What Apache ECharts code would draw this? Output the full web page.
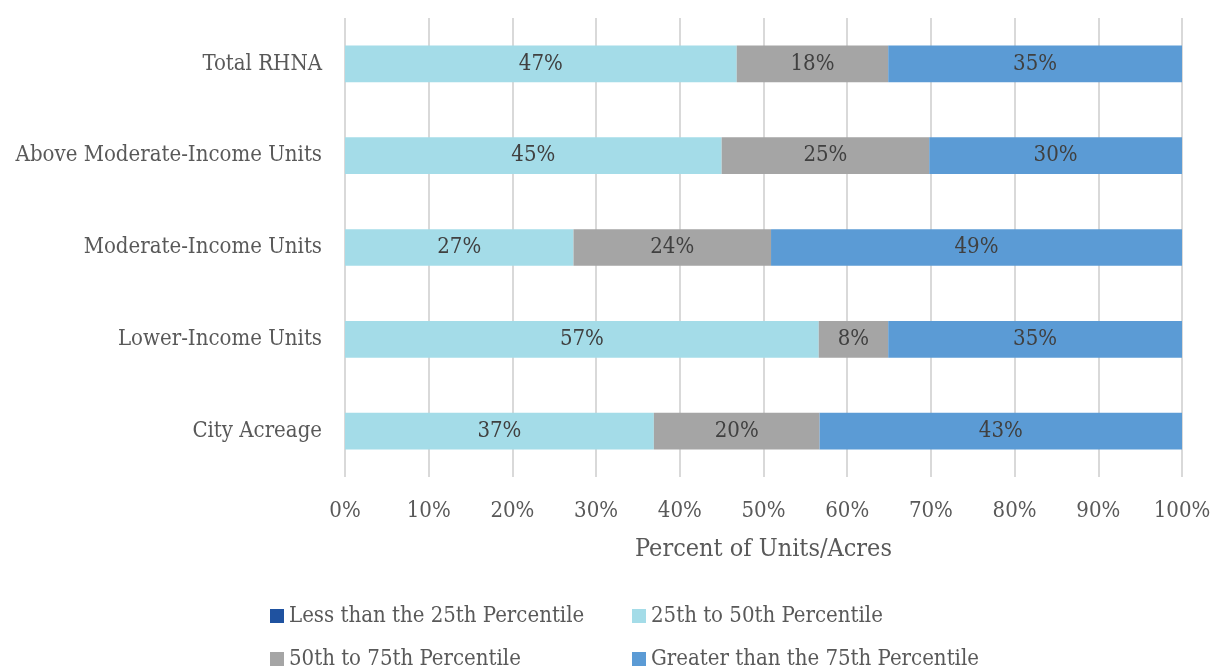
<!DOCTYPE html>
<html><head><meta charset="utf-8">
<script src="https://cdn.jsdelivr.net/npm/echarts@6/dist/echarts.min.js"></script>
<style>html,body{margin:0;padding:0;background:#fff}#c{width:1215px;height:669px}</style>
</head><body><div id="c"></div>
<script>
const categories = ["City Acreage", "Lower-Income Units", "Moderate-Income Units", "Above Moderate-Income Units", "Total RHNA"];
const seriesNames = ["Less than the 25th Percentile", "25th to 50th Percentile", "50th to 75th Percentile", "Greater than the 75th Percentile"];
const lessThan25 = [0, 0, 0, 0, 0];
const p25to50 = [36.9, 56.6, 27.3, 45.0, 46.8];
const p50to75 = [19.8, 8.3, 23.6, 24.8, 18.1];
const greater75 = [43.3, 35.1, 49.1, 30.2, 35.1];
const xTicks = ["0%","10%","20%","30%","40%","50%","60%","70%","80%","90%","100%"];

const FONT = "'DejaVu Serif Condensed', 'Liberation Serif', serif";
const colors = ["#1F52A0", "#A4DCE8", "#A5A5A5", "#5B9BD5"];
const dataSets = [lessThan25, p25to50, p50to75, greater75];
const legendPos = [[270, 605], [632, 605], [270, 648], [632, 648]];

const chart = echarts.init(document.getElementById('c'));
chart.setOption({
  animation: false,
  textStyle: { fontFamily: FONT },
  grid: { left: 345, right: 33, top: 18, bottom: 192, containLabel: false },
  xAxis: {
    type: 'value', min: 0, max: 100, interval: 10,
    axisLine: { show: false }, axisTick: { show: false },
    splitLine: { show: true, lineStyle: { color: '#D9D9D9', width: 2 } },
    axisLabel: { formatter: v => xTicks[Math.round(v / 10)], color: '#595959', fontSize: 22, fontFamily: FONT, margin: 23 },
    name: 'Percent of Units/Acres', nameLocation: 'middle', nameGap: 60,
    nameTextStyle: { color: '#595959', fontSize: 25, fontFamily: FONT }
  },
  yAxis: {
    type: 'category', data: categories,
    axisLine: { show: false }, axisTick: { show: false },
    axisLabel: { color: '#595959', fontSize: 22, fontFamily: FONT, margin: 23 }
  },
  legend: seriesNames.map((n, i) => ({
    data: [n], left: legendPos[i][0], top: legendPos[i][1],
    itemWidth: 14, itemHeight: 14, itemGap: 5, icon: 'rect', padding: 0,
    textStyle: { color: '#595959', fontSize: 22, fontFamily: FONT, padding: [0, 0, 0, 0] }
  })),
  series: seriesNames.map((n, i) => ({
    name: n, type: 'bar', stack: 'total', data: dataSets[i],
    barCategoryGap: '60%',
    itemStyle: { color: colors[i] },
    label: {
      show: i > 0, position: 'inside', color: '#404040', fontSize: 22, fontFamily: FONT,
      formatter: p => Math.round(p.value) + '%'
    }
  }))
});
</script></body></html>
